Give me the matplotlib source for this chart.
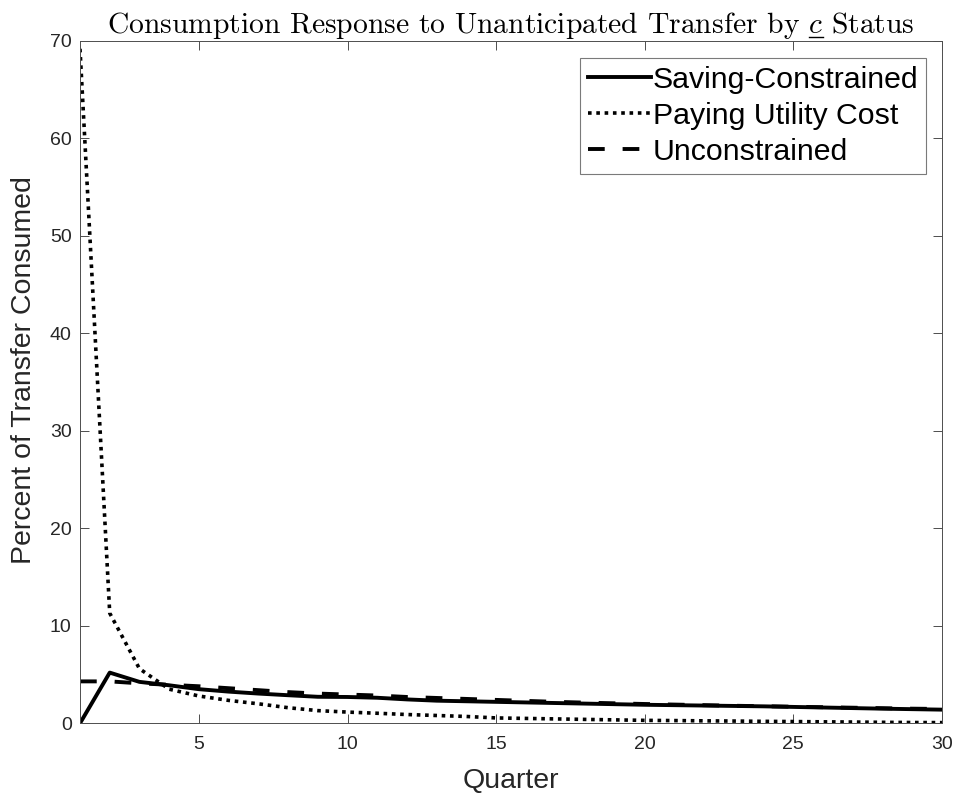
import matplotlib
matplotlib.use("Agg")
import matplotlib.pyplot as plt
from matplotlib.lines import Line2D
import numpy as np

# quarters after the transfer
quarters = np.arange(1, 31)

# percent of transfer consumed, by status
saving_constrained = [0.0, 5.2, 4.25, 3.9, 3.5, 3.25, 3.05, 2.88, 2.72, 2.7,
                      2.62, 2.45, 2.32, 2.26, 2.2, 2.14, 2.08, 2.02, 1.96, 1.9,
                      1.86, 1.82, 1.78, 1.74, 1.68, 1.62, 1.56, 1.5, 1.45, 1.4]
paying_utility = [69.2, 11.3, 5.6, 3.5, 2.8, 2.35, 2.0, 1.6, 1.3, 1.15,
                  1.03, 0.9, 0.8, 0.7, 0.55, 0.5, 0.45, 0.4, 0.35, 0.3,
                  0.28, 0.25, 0.23, 0.2, 0.18, 0.15, 0.13, 0.1, 0.08, 0.07]
unconstrained = [4.3, 4.3, 4.1, 3.95, 3.8, 3.6, 3.4, 3.2, 3.05, 2.95,
                 2.85, 2.7, 2.6, 2.5, 2.4, 2.3, 2.2, 2.12, 2.05, 1.98,
                 1.92, 1.86, 1.8, 1.75, 1.7, 1.65, 1.6, 1.55, 1.5, 1.47]

series_labels = ["Saving-Constrained", "Paying Utility Cost", "Unconstrained"]
x_ticks = [5, 10, 15, 20, 25, 30]
y_ticks = [0, 10, 20, 30, 40, 50, 60, 70]

title_head = "Consumption Response to Unanticipated Transfer by $c$"
title_tail = " Status"

plt.rcParams["font.family"] = ["Liberation Sans", "DejaVu Sans"]
plt.rcParams["mathtext.fontset"] = "cm"

fig = plt.figure(figsize=(9.57, 7.93), dpi=100)
ax = fig.add_axes([0.0836, 0.0879, 0.9007, 0.8604])

lw = 2.8
ax.plot(quarters, saving_constrained, color="black", lw=lw, label=series_labels[0])
ax.plot(quarters, paying_utility, color="black", lw=2.6, linestyle=(0, (1, 1.3)),
        dash_capstyle="butt", label=series_labels[1])
ax.plot(quarters, unconstrained, color="black", lw=lw, linestyle=(0, (4.3, 4.6)),
        dash_capstyle="butt", label=series_labels[2])

ax.set_xlim(1, 30)
ax.set_ylim(0, 70)
ax.set_xticks(x_ticks)
ax.set_yticks(y_ticks)

grey = "#262626"
for s in ax.spines.values():
    s.set_color("0.3")
    s.set_linewidth(0.7)
ax.tick_params(direction="in", top=True, right=True, length=6.5, width=0.7,
               colors="0.3", labelsize=14, labelcolor=grey)
ax.tick_params(axis="x", pad=9)
ax.tick_params(axis="y", pad=6)

ax.set_xlabel("Quarter", fontsize=20.5, color=grey, labelpad=11)
ax.set_ylabel("Percent of Transfer Consumed", fontsize=20.5, color=grey, labelpad=9)
ax.yaxis.label.set_y(0.518)
title = ax.set_title(title_head + title_tail, fontsize=21.3, family="cmr10", pad=6)

leg = ax.legend(loc="upper right", fontsize=21.8, handlelength=2.1, handletextpad=0.05,
                borderpad=0.25, labelspacing=0.27, fancybox=False,
                bbox_to_anchor=(0.9815, 0.975), borderaxespad=0)
leg.get_frame().set_edgecolor("0.35")
leg.get_frame().set_linewidth(0.8)

# mathtext has no \underline, so draw the bar under c by hand
fig.canvas.draw()
renderer = fig.canvas.get_renderer()
prop = title.get_fontproperties()
bb = title.get_window_extent(renderer)
w_head, _, _ = renderer.get_text_width_height_descent(title_head, prop, ismath=True)
w_c, _, _ = renderer.get_text_width_height_descent("$c$", prop, ismath=True)
_, _, d_full = renderer.get_text_width_height_descent(title_head + title_tail, prop, ismath=True)
x_end = bb.x0 + w_head
x_start = x_end - w_c
y_base = bb.y0 + d_full - 4
fig.add_artist(Line2D([x_start / fig.bbox.width, x_end / fig.bbox.width],
                      [y_base / fig.bbox.height] * 2, color="black", lw=1.0,
                      transform=fig.transFigure))

fig.savefig("out.png", dpi=100)
